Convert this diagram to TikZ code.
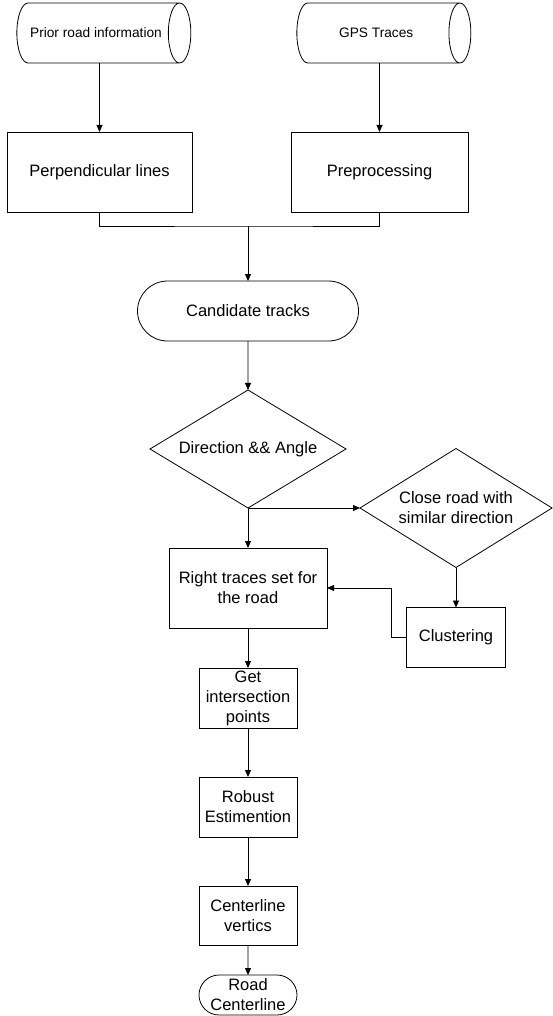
\documentclass[tikz,border=0pt]{standalone}
\usepackage{fontspec}
\setmainfont{Liberation Sans}
\usetikzlibrary{shapes.geometric, shapes.misc, arrows.meta, positioning}

\begin{document}
\begin{tikzpicture}[
    x=1pt, y=1pt,
    every node/.style={font=\fontsize{16.5}{20}\selectfont, outer sep=0pt},
    proc/.style={rectangle, draw, line width=0.8pt, align=center, inner sep=2pt},
    store/.style={cylinder, draw, line width=0.8pt, aspect=1.6, minimum width=60pt, minimum height=174pt, inner sep=2pt, font=\fontsize{13.7}{16}\selectfont},
    term/.style={rounded rectangle, draw, line width=0.8pt, align=center, inner sep=2pt},
    decide/.style={diamond, draw, line width=0.8pt, align=center, inner sep=1pt},
    arr/.style={-{Triangle[length=7pt, width=6pt]}, line width=0.8pt}
]
\useasboundingbox (0,0) rectangle (552,-1016);
\node[store] (prior) at (96,-33) {Prior road information};
\node[store, right=106pt of prior] (gps) {GPS Traces};
\node[proc, minimum width=185pt, minimum height=80pt] (perp) at (99.5,-172) {Perpendicular lines};
\node[proc, minimum width=177pt, minimum height=80pt] (prep) at (379.5,-172) {Preprocessing};
\coordinate (merge) at (248,-226);
\node[term, minimum width=225pt, minimum height=60pt, below=55pt of merge] (cand) {Candidate tracks};
\node[decide, aspect=1.66, minimum width=196pt, minimum height=118pt, below=49pt of cand] (dir) {Direction \&\& Angle};
\node[proc, minimum width=158pt, minimum height=80pt, below=40pt of dir] (right) {Right traces set for\\the road};
\node[decide, aspect=1.61, minimum width=192pt, minimum height=119pt] (close) at (456,-508) {Close road with\\similar direction};
\node[proc, minimum width=99pt, minimum height=60pt, below=40pt of close] (clus) {Clustering};
\node[proc, minimum width=98pt, minimum height=60pt, inner sep=0pt, below=40pt of right] (getint) {Get\\intersection\\points};
\node[proc, minimum width=98pt, minimum height=60pt, below=49pt of getint] (robust) {Robust\\Estimention};
\node[proc, minimum width=98pt, minimum height=59pt, below=49pt of robust] (cvert) {Centerline\\vertics};
\node[term, minimum width=98pt, minimum height=40pt, inner sep=0pt, below=30pt of cvert] (road) {Road\\Centerline};
\draw[arr] (perp.north |- prior.south) -- (perp.north);
\draw[arr] (prep.north |- gps.south) -- (prep.north);
\draw[line width=0.8pt] (perp.south) |- (merge) -| (prep.south);
\draw[arr] (merge) -- (cand);
\draw[arr] (cand) -- (dir);
\draw[arr] (dir.south) -- (close.west);
\draw[arr] (dir) -- (right);
\draw[arr] (close) -- (clus);
\draw[arr] (clus.west) -- ++(-15,0) |- (right.east);
\draw[arr] (right) -- (getint);
\draw[arr] (getint) -- (robust);
\draw[arr] (robust) -- (cvert);
\draw[arr] (cvert) -- (road);
\end{tikzpicture}
\end{document}
